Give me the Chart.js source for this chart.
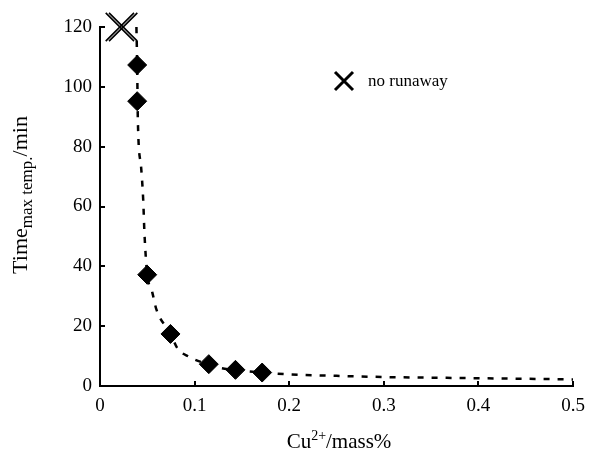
<!DOCTYPE html>
<html>
<head>
<meta charset="utf-8">
<script src="https://cdn.jsdelivr.net/npm/chart.js@4/dist/chart.umd.min.js"></script>
<style>
  html, body { margin: 0; padding: 0; background: #fff; }
  #wrap { width: 589px; height: 453px; }
</style>
</head>
<body>
<div id="wrap"><canvas id="c" width="589" height="453"></canvas></div>
<script>
// ---- data ----
const measuredX = [0.0393, 0.0393, 0.0499, 0.0745, 0.115, 0.1432, 0.1714];
const measuredY = [107.3, 95.2, 37.2, 17.4, 7.3, 5.4, 4.5];

const noRunawayX = [0.021, 0.0245];
const noRunawayY = [120, 120];

const fitX = [0.0385, 0.0393, 0.040, 0.0435, 0.0457, 0.047, 0.0499, 0.0552, 0.0597, 0.0745, 0.0816, 0.0939, 0.115, 0.1274, 0.1432, 0.1714, 0.2, 0.25, 0.3, 0.4, 0.5];
const fitY = [120, 107, 89, 73, 62, 51, 37.5, 31.4, 25.5, 17.6, 12.7, 9.8, 7.2, 6.0, 5.3, 4.5, 3.9, 3.4, 3.0, 2.6, 2.2];

const xTickLabels = ['0', '0.1', '0.2', '0.3', '0.4', '0.5'];
const yTickLabels = ['0', '20', '40', '60', '80', '100', '120'];

const legendLabel = 'no runaway';
const xTitleMain = 'Cu';
const xTitleSup = '2+';
const xTitleRest = '/mass%';
const yTitleMain = 'Time';
const yTitleSub = 'max temp.';
const yTitleRest = '/min';

const SERIF = '"Liberation Serif", "Times New Roman", serif';

function pts(xs, ys) { return xs.map((x, i) => ({ x: x, y: ys[i] })); }

const decor = {
  id: 'decor',
  afterDraw(chart) {
    const ctx = chart.ctx;
    const xs = chart.scales.x, ys = chart.scales.y;
    const ca = chart.chartArea;
    ctx.save();
    // inward tick marks
    ctx.strokeStyle = '#000';
    ctx.lineWidth = 2;
    ctx.beginPath();
    xs.ticks.forEach(t => {
      const px = Math.round(xs.getPixelForValue(t.value));
      ctx.moveTo(px, ca.bottom);
      ctx.lineTo(px, ca.bottom - 5);
    });
    ys.ticks.forEach(t => {
      const py = Math.round(ys.getPixelForValue(t.value));
      ctx.moveTo(ca.left, py);
      ctx.lineTo(ca.left + 5, py);
    });
    ctx.stroke();

    // x title with superscript
    ctx.fillStyle = '#000';
    ctx.textBaseline = 'alphabetic';
    ctx.textAlign = 'left';
    const mainF = '21px ' + SERIF, smallF = '14px ' + SERIF;
    ctx.font = mainF; const w1 = ctx.measureText(xTitleMain).width;
    const w3 = ctx.measureText(xTitleRest).width;
    ctx.font = smallF; const w2 = ctx.measureText(xTitleSup).width;
    const total = w1 + w2 + w3;
    let x0 = 339 - total / 2;
    const by = 448;
    ctx.font = mainF; ctx.fillText(xTitleMain, x0, by);
    ctx.font = smallF; ctx.fillText(xTitleSup, x0 + w1, by - 8);
    ctx.font = mainF; ctx.fillText(xTitleRest, x0 + w1 + w2, by);

    // y title with subscript (rotated)
    ctx.save();
    ctx.translate(27, 195);
    ctx.rotate(-Math.PI / 2);
    const ySmallF = '17px ' + SERIF;
    const yMainF = '22px ' + SERIF;
    ctx.font = yMainF; const v1 = ctx.measureText(yTitleMain).width;
    const v3 = ctx.measureText(yTitleRest).width;
    ctx.font = ySmallF; const v2 = ctx.measureText(yTitleSub).width;
    let s = -(v1 + v2 + v3) / 2;
    ctx.font = yMainF; ctx.fillText(yTitleMain, s, 0);
    ctx.font = ySmallF; ctx.fillText(yTitleSub, s + v1, 5);
    ctx.font = yMainF; ctx.fillText(yTitleRest, s + v1 + v2, 0);
    ctx.restore();

    // legend
    const lx = 344, ly = 81, r = 9;
    ctx.lineWidth = 3;
    ctx.beginPath();
    ctx.moveTo(lx - r, ly - r); ctx.lineTo(lx + r, ly + r);
    ctx.moveTo(lx - r, ly + r); ctx.lineTo(lx + r, ly - r);
    ctx.stroke();
    ctx.font = '17px ' + SERIF;
    ctx.fillText(legendLabel, 368, 86);
    ctx.restore();
  }
};

new Chart(document.getElementById('c'), {
  type: 'scatter',
  data: {
    datasets: [
      {
        label: 'fit',
        data: pts(fitX, fitY),
        showLine: true,
        borderColor: '#000',
        borderWidth: 2.5,
        borderDash: [6, 8],
        pointRadius: 0,
        cubicInterpolationMode: 'monotone',
        clip: false,
        order: 3
      },
      {
        label: 'measured',
        data: pts(measuredX, measuredY),
        pointStyle: 'rectRot',
        pointRadius: 9.5,
        backgroundColor: '#000',
        borderColor: '#000',
        borderWidth: 1,
        clip: false,
        order: 1
      },
      {
        label: legendLabel,
        data: pts(noRunawayX, noRunawayY),
        pointStyle: 'crossRot',
        pointRadius: 20,
        borderColor: '#000',
        borderWidth: 1.6,
        clip: false,
        order: 2
      }
    ]
  },
  options: {
    responsive: false,
    animation: false,
    events: [],
    layout: { autoPadding: false, padding: { top: 27, right: 16, left: 0, bottom: 0 } },
    plugins: { legend: { display: false }, tooltip: { enabled: false } },
    scales: {
      x: {
        type: 'linear', min: 0, max: 0.5,
        afterFit: s => { s.height = 67; s.paddingLeft = 0; s.paddingRight = 0; },
        grid: { display: false, drawTicks: false },
        border: { display: true, color: '#000', width: 2 },
        ticks: {
          stepSize: 0.1, padding: 9, color: '#000',
          font: { family: SERIF, size: 19 },
          maxRotation: 0,
          callback: (v, i) => xTickLabels[i]
        }
      },
      y: {
        type: 'linear', min: 0, max: 120,
        afterFit: s => { s.width = 100; s.paddingTop = 0; s.paddingBottom = 0; },
        grid: { display: false, drawTicks: false },
        border: { display: true, color: '#000', width: 2 },
        ticks: {
          stepSize: 20, padding: 8, color: '#000',
          font: { family: SERIF, size: 19 },
          callback: (v, i) => yTickLabels[i]
        }
      }
    }
  },
  plugins: [decor]
});
</script>
</body>
</html>
